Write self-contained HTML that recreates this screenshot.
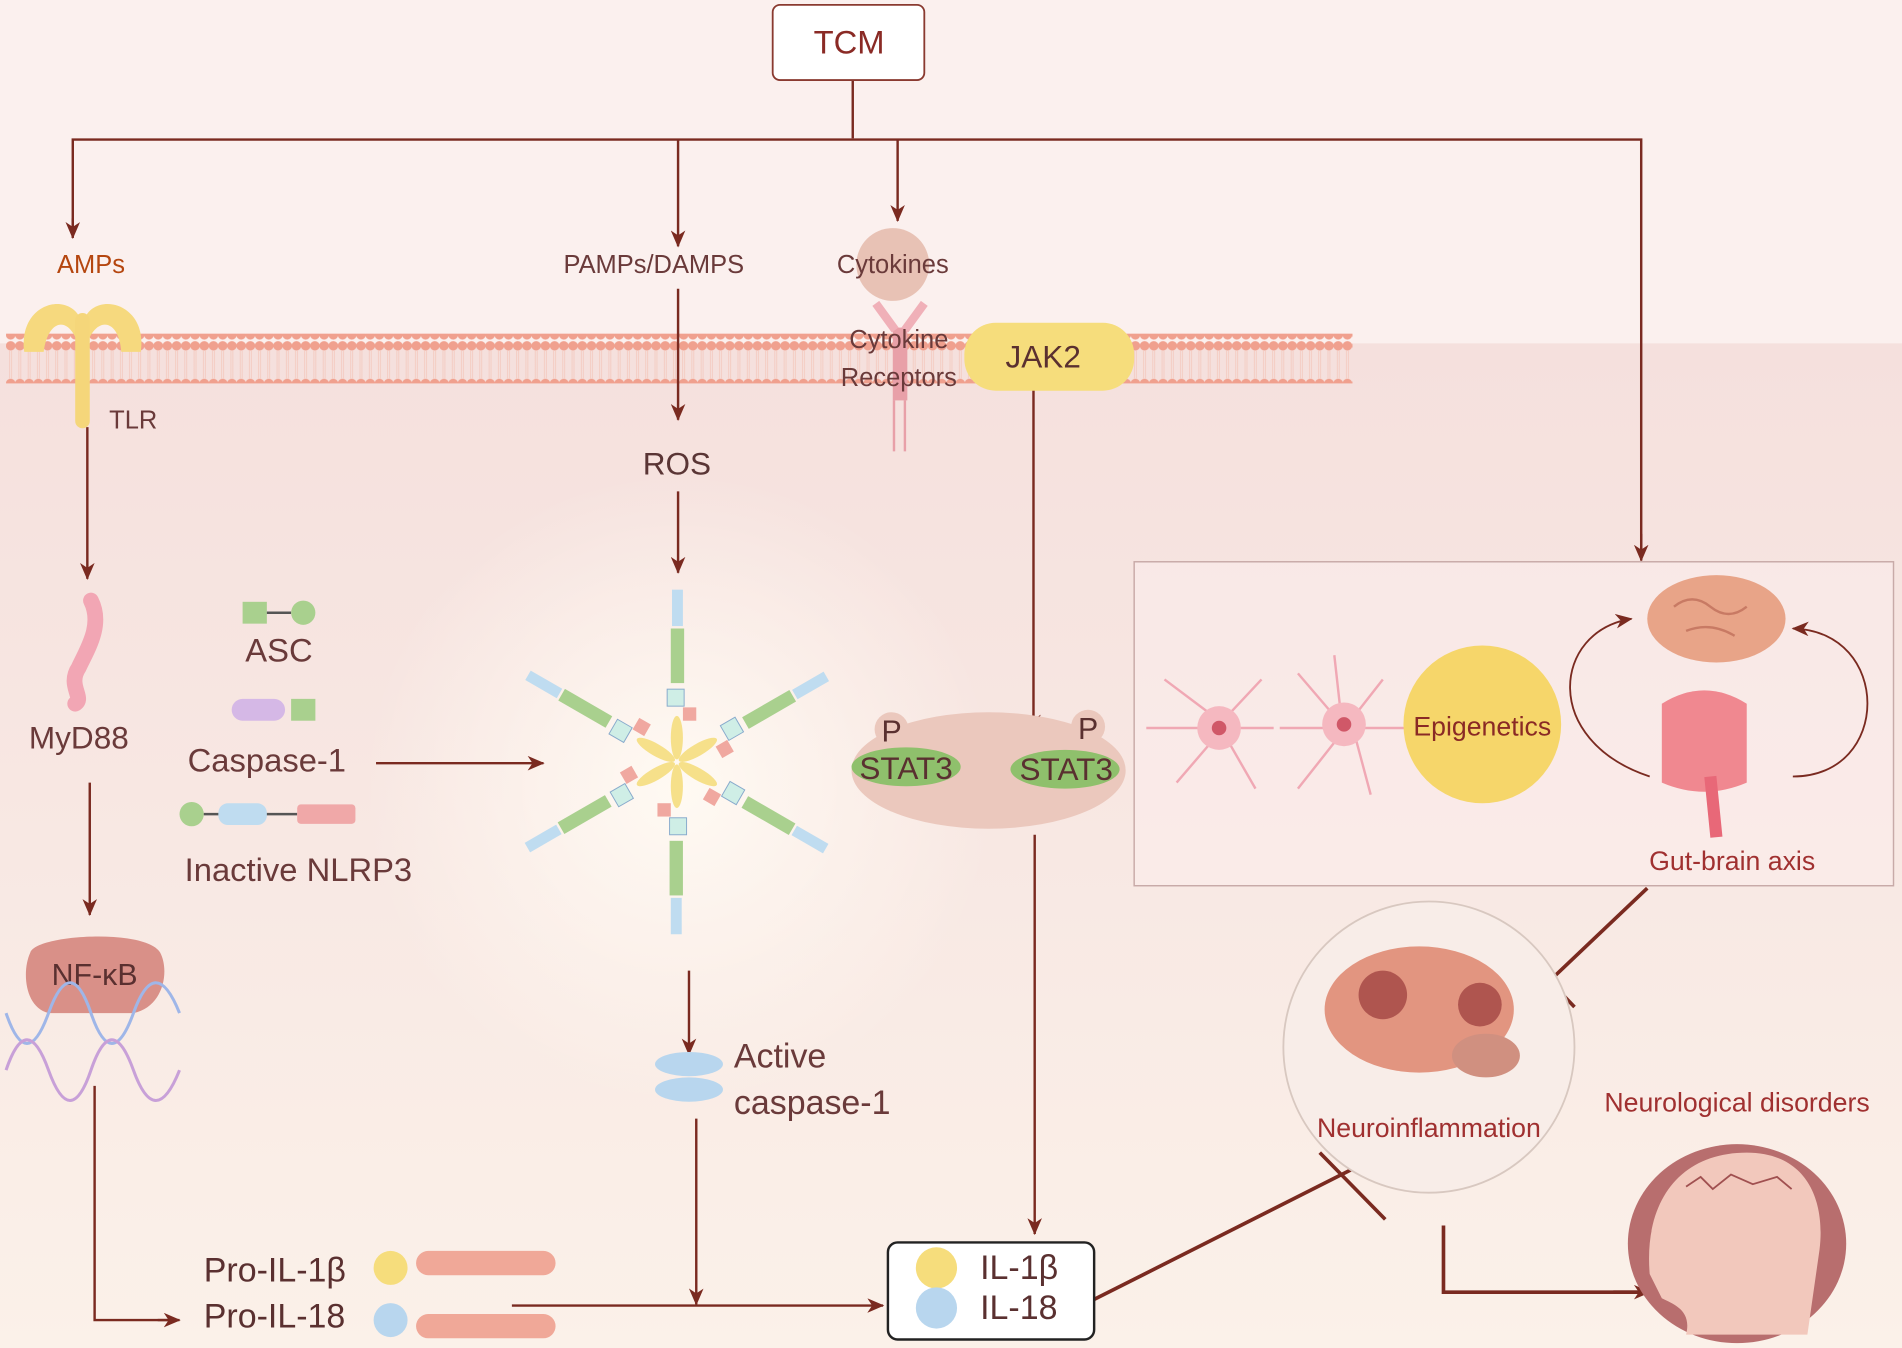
<!DOCTYPE html>
<html><head><meta charset="utf-8"><style>
html,body{margin:0;padding:0;background:#fbf0ee;}
svg{display:block;}
text{font-family:"Liberation Sans",sans-serif;}
</style></head><body>
<svg width="1902" height="1348" viewBox="0 0 1568 1111" preserveAspectRatio="none" xmlns="http://www.w3.org/2000/svg">
<defs>
<linearGradient id="bg" x1="0" y1="0" x2="0" y2="1">
<stop offset="0" stop-color="#f5e0dd"/><stop offset="0.5" stop-color="#f8e8e3"/><stop offset="1" stop-color="#fbf1e9"/>
</linearGradient>
<radialGradient id="glow" cx="0.5" cy="0.5" r="0.5">
<stop offset="0" stop-color="#fffaf3"/><stop offset="1" stop-color="#fffaf3" stop-opacity="0"/>
</radialGradient>
<pattern id="lip" x="5" y="0" width="7.6" height="40" patternUnits="userSpaceOnUse">
<circle cx="3.8" cy="5" r="3.9" fill="#f0a08e"/>
<circle cx="3.8" cy="36" r="3.9" fill="#f0a08e"/>
<line x1="3" y1="9" x2="3" y2="32" stroke="#f3c4b8" stroke-width="0.6"/>
<line x1="4.6" y1="9" x2="4.6" y2="32" stroke="#f3c4b8" stroke-width="0.6"/>
</pattern>
<marker id="ar" markerWidth="14" markerHeight="12" refX="13" refY="6" orient="auto" markerUnits="userSpaceOnUse">
<path d="M0,0 L14,6 L0,12 L4,6 Z" fill="#7a2a20"/></marker>
</defs>
<rect width="1568" height="1111" fill="#fbf0ee"/>
<rect x="0" y="283" width="1568" height="828" fill="url(#bg)"/>
<ellipse cx="560" cy="650" rx="260" ry="260" fill="url(#glow)"/>
<rect x="5" y="275" width="1110" height="41" fill="url(#lip)"/>

<g stroke="#7a2a20" stroke-width="2" fill="none">
<line x1="703" y1="66" x2="703" y2="114"/>
<polyline points="60,196 60,115 1353,115 1353,460" />
<line x1="60" y1="180" x2="60" y2="196" marker-end="url(#ar)"/>
<line x1="1353" y1="440" x2="1353" y2="462" marker-end="url(#ar)"/>
<line x1="559" y1="115" x2="559" y2="203" marker-end="url(#ar)"/>
<line x1="740" y1="115" x2="740" y2="182" marker-end="url(#ar)"/>
<line x1="559" y1="238" x2="559" y2="346" marker-end="url(#ar)"/>
<line x1="559" y1="405" x2="559" y2="472" marker-end="url(#ar)"/>
<line x1="72" y1="352" x2="72" y2="477" marker-end="url(#ar)"/>
<line x1="74" y1="645" x2="74" y2="754" marker-end="url(#ar)"/>
<polyline points="78,895 78,1088 145,1088" />
<line x1="130" y1="1088" x2="148" y2="1088" marker-end="url(#ar)"/>
<line x1="310" y1="629" x2="448" y2="629" marker-end="url(#ar)"/>
<line x1="568" y1="800" x2="568" y2="869" marker-end="url(#ar)"/>
<line x1="574" y1="922" x2="574" y2="1075" marker-end="url(#ar)"/>
<line x1="422" y1="1076" x2="728" y2="1076" marker-end="url(#ar)"/>
<line x1="852" y1="320" x2="852" y2="602" marker-end="url(#ar)"/>
<line x1="752" y1="601" x2="887" y2="601" marker-end="url(#ar)"/>
<line x1="853" y1="688" x2="853" y2="1017" marker-end="url(#ar)"/>
<g stroke-width="3">
<line x1="900" y1="1072" x2="1122" y2="960"/>
<line x1="1088" y1="950" x2="1142" y2="1005"/>
<line x1="1358" y1="732" x2="1278" y2="808"/>
<line x1="1258" y1="788" x2="1298" y2="830"/>
<polyline points="1190,1010 1190,1065 1355,1065"/>
<line x1="1330" y1="1065" x2="1360" y2="1065" marker-end="url(#ar)"/>
</g>
</g>

<rect x="637" y="4" width="125" height="62" rx="6" fill="#fff" stroke="#8a3a30" stroke-width="1.5"/>
<text x="700" y="44" font-size="27" fill="#8a2a25" text-anchor="middle">TCM</text>

<path d="M20,290 C15,250 55,240 66,262 L66,290 C60,260 40,260 36,290Z" fill="#f6d97e"/>
<path d="M116,290 C122,250 80,240 70,262 L70,290 C76,260 98,260 100,290Z" fill="#f6d97e"/>
<rect x="62" y="258" width="12" height="95" rx="6" fill="#f5d67a"/>
<text x="75" y="225" font-size="21" fill="#b5460f" text-anchor="middle">AMPs</text>
<text x="90" y="353" font-size="21" fill="#6a3a3a">TLR</text>

<text x="539" y="225" font-size="21" fill="#6a3a3a" text-anchor="middle">PAMPs/DAMPS</text>
<circle cx="736" cy="218" r="30" fill="#e8c2b5"/>
<text x="736" y="225" font-size="21" fill="#6a3a3a" text-anchor="middle">Cytokines</text>
<rect x="736" y="270" width="12" height="60" fill="#e8a0a8"/>
<line x1="737" y1="330" x2="737" y2="372" stroke="#e8a0a8" stroke-width="2"/>
<line x1="746" y1="330" x2="746" y2="372" stroke="#e8a0a8" stroke-width="2"/>
<path d="M722,250 L738,272 M762,250 L746,272" stroke="#f0b0b8" stroke-width="7"/>
<text x="741" y="287" font-size="21" fill="#6a3a3a" text-anchor="middle">Cytokine</text>
<text x="741" y="318" font-size="21" fill="#6a3a3a" text-anchor="middle">Receptors</text>
<rect x="795" y="266" width="140" height="56" rx="26" fill="#f6dd7c"/>
<text x="860" y="303" font-size="26" fill="#5a3030" text-anchor="middle">JAK2</text>

<text x="558" y="391" font-size="26" fill="#5a3535" text-anchor="middle">ROS</text>

<path d="M75,495 C85,515 72,535 65,550 C55,565 70,575 62,580" stroke="#f2a6b4" stroke-width="13" fill="none" stroke-linecap="round"/>
<text x="65" y="617" font-size="26" fill="#6a3a3a" text-anchor="middle">MyD88</text>

<rect x="200" y="496" width="20" height="18" fill="#a9d08e"/>
<line x1="220" y1="505" x2="240" y2="505" stroke="#555" stroke-width="2"/>
<circle cx="250" cy="505" r="10" fill="#a9d08e"/>
<text x="230" y="545" font-size="27" fill="#6a3a3a" text-anchor="middle">ASC</text>
<rect x="191" y="576" width="44" height="18" rx="9" fill="#d5b8e6"/>
<rect x="240" y="576" width="20" height="18" fill="#a9d08e"/>
<text x="220" y="636" font-size="27" fill="#6a3a3a" text-anchor="middle">Caspase-1</text>
<circle cx="158" cy="671" r="10" fill="#a9d08e"/>
<line x1="168" y1="671" x2="245" y2="671" stroke="#555" stroke-width="2"/>
<rect x="180" y="662" width="40" height="18" rx="8" fill="#bfdcf0"/>
<rect x="245" y="663" width="48" height="16" rx="3" fill="#f0a8a8"/>
<text x="246" y="726" font-size="27" fill="#6a3a3a" text-anchor="middle">Inactive NLRP3</text>

<g transform="translate(558,628)">
<g id="arm">
<rect x="-5" y="-110" width="11" height="45" fill="#a9d08e"/>
<rect x="-4" y="-142" width="9" height="30" fill="#bfdcf0"/>
<rect x="-8" y="-60" width="14" height="14" fill="#cfeee6" stroke="#8ac" stroke-width="0.8"/>
<rect x="5" y="-45" width="11" height="11" fill="#f0a8a0"/>
<ellipse cx="0" cy="-20" rx="5" ry="18" fill="#f6e08a"/>
</g>
<use href="#arm" transform="rotate(60)"/><use href="#arm" transform="rotate(120)"/>
<use href="#arm" transform="rotate(180)"/><use href="#arm" transform="rotate(240)"/><use href="#arm" transform="rotate(300)"/>
</g>

<ellipse cx="568" cy="877" rx="28" ry="10" fill="#b8d6ee"/>
<ellipse cx="568" cy="898" rx="28" ry="10" fill="#b8d6ee"/>
<text x="605" y="880" font-size="28" fill="#6a3a3a">Active</text>
<text x="605" y="918" font-size="28" fill="#6a3a3a">caspase-1</text>

<path d="M25,785 C30,770 120,765 132,785 C140,800 135,830 110,835 L40,835 C20,830 18,800 25,785Z" fill="#d99088"/>
<text x="78" y="812" font-size="25" fill="#5a3030" text-anchor="middle">NF-κB</text>
<g stroke-width="2.5" fill="none">
<path d="M5,835 Q22,885 40,835 T75,835 T110,835 T148,835" stroke="#9fb6e8"/>
<path d="M5,882 Q22,832 40,882 T75,882 T110,882 T148,882" stroke="#c8a0d8"/>
</g>

<ellipse cx="815" cy="635" rx="113" ry="48" fill="#ebc8bd"/>
<circle cx="735" cy="601" r="14" fill="#ebc8bd"/><circle cx="897" cy="599" r="14" fill="#ebc8bd"/>
<text x="735" y="611" font-size="25" fill="#5a3030" text-anchor="middle">P</text>
<text x="897" y="609" font-size="25" fill="#5a3030" text-anchor="middle">P</text>
<ellipse cx="747" cy="632" rx="45" ry="16" fill="#8fc06c"/>
<ellipse cx="878" cy="634" rx="45" ry="16" fill="#8fc06c"/>
<text x="747" y="642" font-size="26" fill="#5a3030" text-anchor="middle">STAT3</text>
<text x="879" y="643" font-size="26" fill="#5a3030" text-anchor="middle">STAT3</text>

<rect x="935" y="463" width="626" height="267" fill="#fbeeee" fill-opacity="0.5" stroke="#c8aaa8" stroke-width="1.2"/>
<g stroke="#f0a8b4" stroke-width="2" fill="none">
<path d="M945,600 L1050,600 M960,560 L1000,590 M970,645 L1000,610 M1040,560 L1010,592 M1035,650 L1012,610"/>
<path d="M1055,600 L1160,600 M1070,555 L1100,590 M1070,650 L1100,612 M1140,560 L1115,592 M1130,655 L1118,610 M1100,540 L1105,585"/>
</g>
<circle cx="1005" cy="600" r="18" fill="#f5b8c0"/><circle cx="1005" cy="600" r="6" fill="#d05868"/>
<circle cx="1108" cy="597" r="18" fill="#f5b8c0"/><circle cx="1108" cy="597" r="6" fill="#d05868"/>
<circle cx="1222" cy="597" r="65" fill="#f6d66a"/>
<text x="1222" y="606" font-size="22" fill="#8a2a25" text-anchor="middle">Epigenetics</text>
<ellipse cx="1415" cy="510" rx="57" ry="36" fill="#e8a488"/>
<path d="M1380,500 q15,-12 30,0 q15,12 30,0 M1390,520 q20,-8 40,4" stroke="#c87a64" stroke-width="2" fill="none"/>
<path d="M1370,580 q35,-22 70,0 l0,65 q-35,15 -70,0 Z" fill="#f08890"/>
<path d="M1410,640 L1415,690" stroke="#e86878" stroke-width="10"/>
<path d="M1360,640 C1270,610 1280,520 1345,510" stroke="#7a2a20" stroke-width="1.5" fill="none" marker-end="url(#ar)"/>
<path d="M1478,640 C1560,640 1560,520 1478,518" stroke="#7a2a20" stroke-width="1.5" fill="none" marker-end="url(#ar)"/>
<text x="1428" y="717" font-size="22" fill="#a03030" text-anchor="middle">Gut-brain axis</text>

<circle cx="1178" cy="863" r="120" fill="#f8ede8" stroke="#d8c8c0" stroke-width="1.5"/>
<ellipse cx="1170" cy="832" rx="78" ry="52" fill="#e29580"/>
<circle cx="1140" cy="820" r="20" fill="#9a3a3a" opacity="0.7"/>
<circle cx="1220" cy="828" r="18" fill="#9a3a3a" opacity="0.7"/>
<ellipse cx="1225" cy="870" rx="28" ry="18" fill="#d09080"/>
<text x="1178" y="937" font-size="22" fill="#a03030" text-anchor="middle">Neuroinflammation</text>
<text x="1432" y="916" font-size="22" fill="#a03030" text-anchor="middle">Neurological disorders</text>
<ellipse cx="1432" cy="1025" rx="90" ry="82" fill="#b86e6e"/>
<path d="M1360,1050 C1355,990 1385,950 1440,950 C1490,950 1505,990 1500,1030 L1490,1100 L1390,1100 C1395,1080 1380,1075 1370,1070 Z" fill="#f2c8bc"/>
<path d="M1390,978 l12,-8 l10,10 l15,-12 l18,8 l20,-6 l12,10" stroke="#a05050" stroke-width="1.5" fill="none"/>

<rect x="732" y="1024" width="170" height="80" rx="8" fill="#fff" stroke="#222" stroke-width="2"/>
<circle cx="772" cy="1045" r="17" fill="#f6dd7c"/>
<circle cx="772" cy="1078" r="17" fill="#b8d6ee"/>
<text x="808" y="1054" font-size="28" fill="#5a3030">IL-1β</text>
<text x="808" y="1087" font-size="28" fill="#5a3030">IL-18</text>

<text x="168" y="1056" font-size="28" fill="#5a3030">Pro-IL-1β</text>
<text x="168" y="1094" font-size="28" fill="#5a3030">Pro-IL-18</text>
<circle cx="322" cy="1045" r="14" fill="#f6dd7c"/>
<circle cx="322" cy="1088" r="14" fill="#b8d6ee"/>
<rect x="343" y="1031" width="115" height="20" rx="10" fill="#f0a898"/>
<rect x="343" y="1083" width="115" height="20" rx="10" fill="#f0a898"/>
</svg>
</body></html>
